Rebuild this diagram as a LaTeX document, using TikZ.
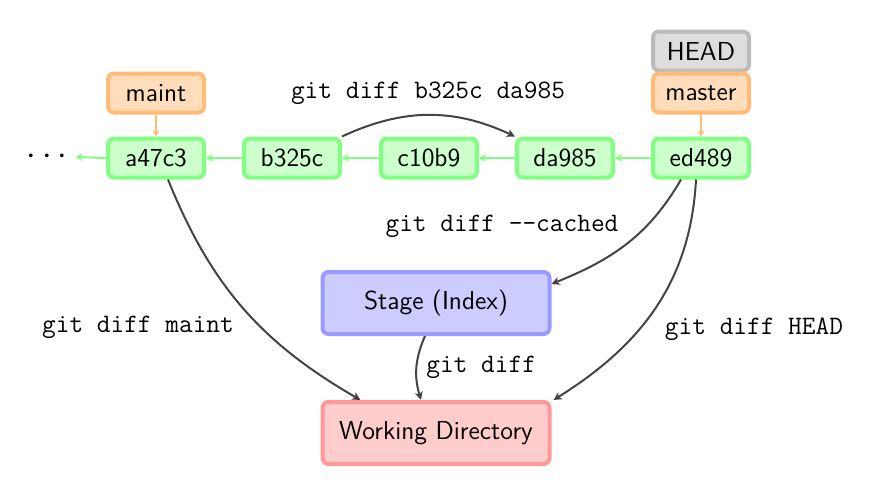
\documentclass[tikz,border=0pt]{standalone}
\usetikzlibrary{arrows.meta}
\definecolor{cgreen}{HTML}{80FF80}
\definecolor{fgreen}{HTML}{CCFFCC}
\definecolor{corange}{HTML}{FFBB77}
\definecolor{forange}{HTML}{FFDDBB}
\definecolor{cgray}{HTML}{BBBBBB}
\definecolor{fgray}{HTML}{DDDDDD}
\definecolor{cblue}{HTML}{9999FF}
\definecolor{fblue}{HTML}{CCCCFF}
\definecolor{cred}{HTML}{FF9999}
\definecolor{fred}{HTML}{FFCCCC}
\definecolor{edgegray}{HTML}{444444}
\begin{document}
\begin{tikzpicture}[x=0.5pt,y=0.5pt,
  box/.style={draw, rounded corners=3pt, line width=2pt, font=\fontsize{13}{15}\selectfont\sffamily, minimum width=48pt, minimum height=19.5pt, inner sep=0pt},
  commit/.style={box, draw=cgreen, fill=fgreen},
  refbox/.style={box, draw=corange, fill=forange},
  headbox/.style={box, draw=cgray, fill=fgray},
  bigbox/.style={box, minimum width=113.5pt, minimum height=31pt},
  parent/.style={draw=cgreen, line width=1pt, -{Stealth[length=3.5pt,width=4pt]}},
  refarrow/.style={draw=corange, line width=0.8pt, -{Stealth[length=3pt,width=3.5pt]}},
  diffarrow/.style={draw=edgegray, line width=1pt, -{Stealth[length=4pt,width=4pt,inset=1pt]}},
  cmd/.style={font=\fontsize{13.3}{15}\selectfont\ttfamily, inner sep=0pt}
]
\useasboundingbox (0,0) rectangle (875,-482);

\node[commit] (a47c3) at (156,-158) {a47c3};
\node[commit] (b325c) at (292,-158) {b325c};
\node[commit] (c10b9) at (429,-158) {c10b9};
\node[commit] (da985) at (565,-158) {da985};
\node[commit] (ed489) at (701,-158) {ed489};
\node[font=\fontsize{17}{18}\selectfont, inner sep=4pt] (dots) at (47,-157) {${\cdot}\,{\cdot}\,{\cdot}$};

\node[refbox] (maint) at (156,-93) {maint};
\node[headbox] (head) at (701,-51) {HEAD};
\node[refbox] (master) at (701,-93) {master};

\node[bigbox, draw=cblue, fill=fblue] (stage) at (436,-303) {Stage (Index)};
\node[bigbox, draw=cred, fill=fred] (wd) at (436,-433) {Working Directory};

\draw[parent] (a47c3.west) -- (dots.east);
\draw[parent] (b325c.west) -- (a47c3.east);
\draw[parent] (c10b9.west) -- (b325c.east);
\draw[parent] (da985.west) -- (c10b9.east);
\draw[parent] (ed489.west) -- (da985.east);

\draw[refarrow] (maint.south) -- (a47c3.north);
\draw[refarrow] (master.south) -- (ed489.north);

\draw[diffarrow] (b325c.north east) to[bend left=25] (da985.north west);
\draw[diffarrow] ([xshift=-10pt]ed489.south) to[out=-120,in=22] ([yshift=9.5pt]stage.east);
\draw[diffarrow] ([xshift=-2.5pt]ed489.south) to[out=-93,in=32] ([xshift=1pt]wd.north east);
\draw[diffarrow] ([xshift=6pt]a47c3.south) to[out=-68,in=150] ([xshift=20pt]wd.north west);
\draw[diffarrow] ([xshift=-5.5pt]stage.south) to[bend right=20] ([xshift=-7.5pt]wd.north);

\node[cmd] (l1) at (428,-93) {git diff b325c da985};
\node[cmd] (l2) at (502,-226) {git diff -{}-cached};
\node[cmd] (l3) at (138,-327) {git diff maint};
\node[cmd] (l4) at (754,-329) {git diff HEAD};
\node[cmd, anchor=west] (l5) at (426,-367) {git diff};
\end{tikzpicture}
\end{document}
